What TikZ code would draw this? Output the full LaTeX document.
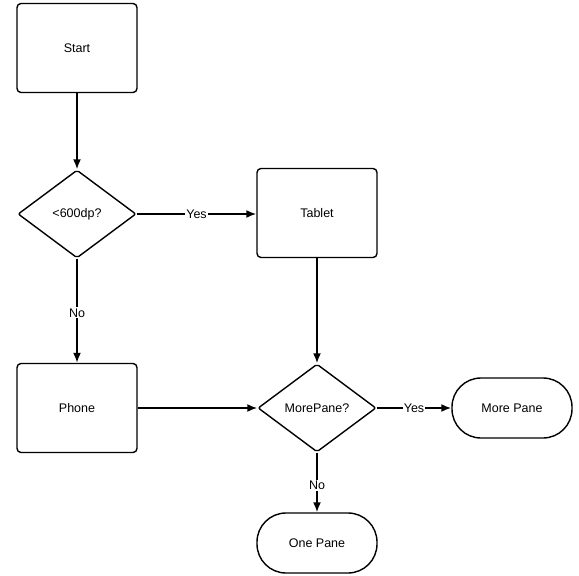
\documentclass[tikz,border=0pt]{standalone}
\usepackage{fontspec}
\setmainfont{Liberation Sans}
\usetikzlibrary{shapes.geometric, arrows.meta}
\tikzset{
    box/.style={draw, line width=1.4pt, rounded corners=4pt, minimum width=120pt, minimum height=89pt},
    decision/.style={draw, diamond, line width=1.4pt, rounded corners=2pt, inner sep=0pt, minimum width=118pt, minimum height=88pt},
    terminal/.style={draw, line width=1.4pt, rounded corners=29pt, minimum width=120pt, minimum height=60pt},
    lbl/.style={fill=white, inner sep=1pt}
}

\begin{document}
\begin{tikzpicture}[>={Latex[length=10pt, width=8pt]}, x=1pt, y=-1pt, font=\fontsize{12.5}{15}\selectfont]

    \useasboundingbox (0,0) rectangle (579,576);

    \draw(77,48) node[box] (start) {Start};
    \draw(77,214) node[decision] (size) {<600dp?};
    \draw(317,213) node[box] (tablet) {Tablet};
    \draw(77,408) node[box] (phone) {Phone};
    \draw(317,408) node[decision] (pane) {MorePane?};
    \draw(512,408) node[terminal] (more) {More Pane};
    \draw(317,543) node[terminal] (one) {One Pane};

    \draw[->, line width=1.8pt] (start) to (size);
    \draw[->, line width=1.8pt] (size.east) to node[lbl] {Yes} (size.east -| tablet.west);
    \draw[->, line width=1.8pt] (size) to node[lbl, pos=0.52] {No} (phone);
    \draw[->, line width=1.8pt] (tablet) to (pane);
    \draw[->, line width=1.8pt] (phone) to (pane);
    \draw[->, line width=1.8pt] (pane) to node[lbl, pos=0.5] {Yes} (more);
    \draw[->, line width=1.8pt] (pane) to node[lbl, pos=0.55] {No} (one);

\end{tikzpicture}
\end{document}
